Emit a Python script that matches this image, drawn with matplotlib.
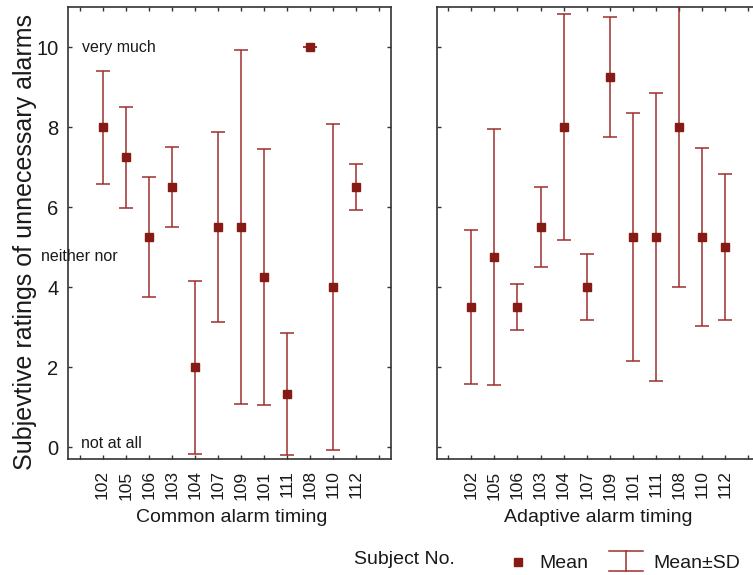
import numpy as np
import matplotlib
matplotlib.use('Agg')
import matplotlib.pyplot as plt
from matplotlib.lines import Line2D

plt.rcParams['font.family'] = ['Liberation Sans', 'DejaVu Sans']

# subject order on the x axis (same for both conditions)
subjects = ['102', '105', '106', '103', '104', '107', '109', '101', '111', '108', '110', '112']

# common alarm timing
common_mean = [8.0, 7.25, 5.25, 6.5, 2.0, 5.5, 5.5, 4.25, 1.33, 10.0, 4.0, 6.5]
common_sd = [1.41, 1.26, 1.5, 1.0, 2.16, 2.38, 4.43, 3.2, 1.53, 0.0, 4.08, 0.58]

# adaptive alarm timing
adaptive_mean = [3.5, 4.75, 3.5, 5.5, 8.0, 4.0, 9.25, 5.25, 5.25, 8.0, 5.25, 5.0]
adaptive_sd = [1.92, 3.2, 0.58, 1.0, 2.83, 0.82, 1.5, 3.1, 3.6, 4.0, 2.22, 1.83]

y_ticks = [0, 2, 4, 6, 8, 10]

MARK = '#861A14'
ERR = '#9E2E2E'
SPINE = '#333333'
TXT = '#1a1a1a'

W, H = 753, 575


def px(x, y):
    # pixel position (from top-left) -> figure fraction
    return x / W, 1 - y / H


def panel(ax, means, sds, show_y):
    pos = np.arange(1, len(subjects) + 1)
    ax.errorbar(pos, means, yerr=sds, fmt='none', ecolor=ERR, elinewidth=1.1,
                capsize=5, capthick=1.1, zorder=2)
    ax.plot(pos, means, 's', color=MARK, markersize=6, zorder=3)

    ax.set_xlim(-0.5, 13.5)
    ax.set_ylim(-0.3, 11)
    ax.set_xticks(range(14))
    ax.set_xticklabels([''] + subjects + [''], rotation=90, fontsize=12.5)
    ax.set_yticks(y_ticks)
    if show_y:
        ax.set_yticklabels([str(t) for t in y_ticks], fontsize=14.5)
    else:
        ax.set_yticklabels([])
    ax.tick_params(direction='in', length=3, width=1, color=SPINE,
                   top=True, right=True, labelcolor=TXT)
    ax.tick_params(axis='x', pad=8)
    ax.tick_params(axis='y', pad=7)
    for s in ax.spines.values():
        s.set_color(SPINE)
        s.set_linewidth(1.2)


fig = plt.figure(figsize=(W / 100, H / 100), dpi=100)
ax1 = fig.add_axes([68 / W, 1 - 459.3 / H, 323 / W, 452.3 / H])
ax2 = fig.add_axes([436.7 / W, 1 - 459.3 / H, 323 / W, 452.3 / H])

panel(ax1, common_mean, common_sd, True)
panel(ax2, adaptive_mean, adaptive_sd, False)

# anchor words of the rating scale
ax1.text(0.12, 10, 'very much', fontsize=11.5, va='center', ha='left', color=TXT)
ax1.text(-1.68, 4.77, 'neither nor', fontsize=11.5, va='center', ha='left',
         color=TXT, clip_on=False)
ax1.text(0.08, 0.1, 'not at all', fontsize=11.5, va='center', ha='left', color=TXT)

fig.text(*px(25, 242), 'Subjevtive ratings of unnecessary alarms', rotation=90,
         fontsize=18, ha='center', va='center', color=TXT)

fig.text(*px(232, 518), 'Common alarm timing', fontsize=14, ha='center', va='center',
         color=TXT)
fig.text(*px(598, 518), 'Adaptive alarm timing', fontsize=14, ha='center', va='center',
         color=TXT)

# legend row at the bottom
fig.text(*px(354, 563.5), 'Subject No.', fontsize=14, ha='left', va='baseline', color=TXT)
fig.add_artist(Line2D([518 / W], [1 - 562 / H], marker='s', color=MARK, markersize=5.5,
                      linestyle='none', transform=fig.transFigure))
fig.text(*px(539, 568.5), 'Mean', fontsize=14, ha='left', va='baseline', color=TXT)
for yy in (551, 571):
    x0, y0 = px(609, yy)
    x1, _ = px(643, yy)
    fig.add_artist(Line2D([x0, x1], [y0, y0], color=ERR, lw=1.1, transform=fig.transFigure))
x0, y0 = px(626, 551)
_, y1 = px(626, 571)
fig.add_artist(Line2D([x0, x0], [y0, y1], color=ERR, lw=1.1, transform=fig.transFigure))
fig.text(*px(653, 568.5), 'Mean\u00b1SD', fontsize=14, ha='left', va='baseline', color=TXT)

fig.savefig('out.png', dpi=100)
